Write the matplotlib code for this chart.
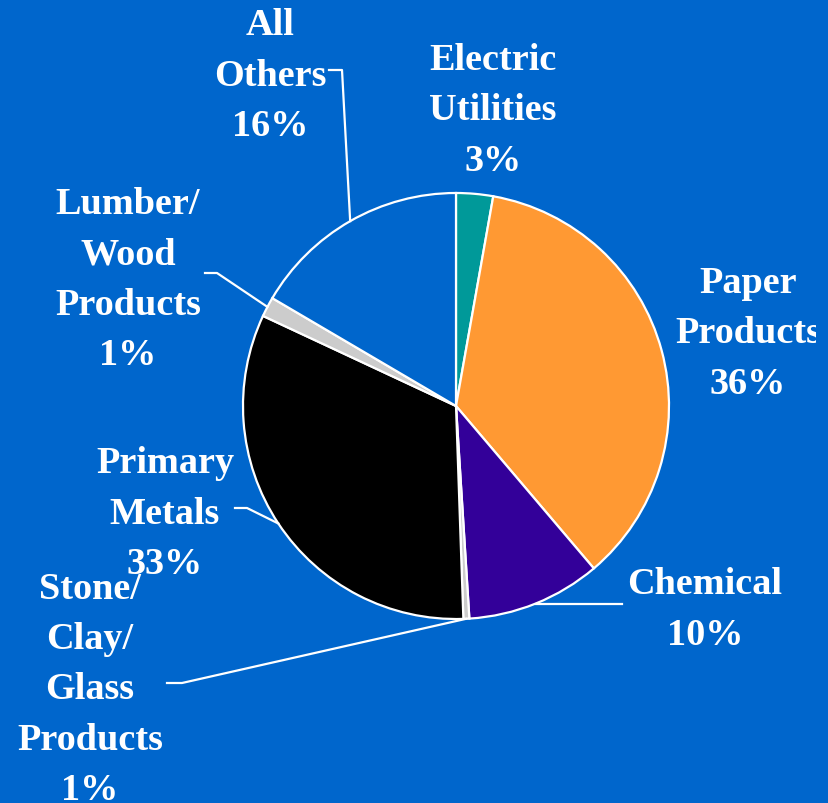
import matplotlib.pyplot as plt
import numpy as np
from matplotlib.transforms import Bbox, TransformedBbox

# Energy use by sector (percent), clockwise from 12 o'clock
sectors = ["Electric\nUtilities", "Paper\nProducts", "Chemical",
           "Stone/\nClay/\nGlass\nProducts", "Primary\nMetals",
           "Lumber/\nWood\nProducts", "All\nOthers"]
shares = [2.8, 36.0, 10.2, 0.45, 32.5, 1.5, 16.55]
share_labels = ["3%", "36%", "10%", "1%", "33%", "1%", "16%"]
colors = ["#009999", "#FF9933", "#330099", "#CCCCCC", "#000000",
          "#CCCCCC", "#0066CC"]

bg = "#0066CC"
W, H = 829, 804
cx, cy, r = 456, 397, 213

fig = plt.figure(figsize=(W / 100, H / 100), dpi=100, facecolor=bg)
ax = fig.add_axes([0, 0, 1, 1])
ax.set_facecolor(bg)

wedges, _ = ax.pie(shares, colors=colors, startangle=90, counterclock=False,
                   center=(cx, cy), radius=r,
                   wedgeprops=dict(edgecolor="white", linewidth=1.6))

ax.set_xlim(0, W)
ax.set_ylim(0, H)
ax.set_aspect("equal")
ax.axis("off")

# label centre, elbow start / elbow end of leader (None = no leader)
label_pos = [(493, 693), (748, 470), (705, 194), (90, 114),
             (165, 290), (128, 524), (270, 728)]
leaders = [None, None, ((537, 197), (537, 197)), ((167, 120), (182, 120)),
           ((235, 295), (247, 295)), ((205, 530), (217, 530)),
           ((329, 733), (342, 733))]

font = dict(family="Liberation Serif", weight="bold", size=27.5, color="white")

for i, w in enumerate(wedges):
    x, y = label_pos[i]
    t = ax.text(x, y, sectors[i] + "\n" + share_labels[i], ha="center",
                va="center", linespacing=1.57, **font)
    if i == 1:
        t.set_clip_box(TransformedBbox(Bbox([[0, 0], [816, H]]), ax.transData))
        t.set_clip_on(True)
    if leaders[i] is not None:
        mid = np.deg2rad((w.theta1 + w.theta2) / 2)
        ex, ey = cx + r * np.cos(mid), cy + r * np.sin(mid)
        (x0, y0), (x1, y1) = leaders[i]
        if i == 2:
            ax.plot([ex, 622], [ey, ey], color="white", lw=1.6)
        else:
            ax.plot([x0, x1, ex], [y0, y1, ey], color="white", lw=1.6)

fig.savefig("out.png", dpi=100, facecolor=bg)
